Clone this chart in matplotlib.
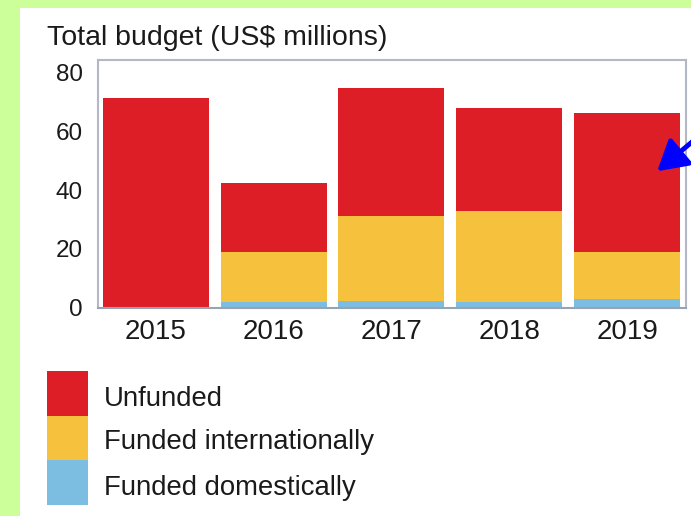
import matplotlib
matplotlib.use("Agg")
import matplotlib.pyplot as plt
from matplotlib.patches import Rectangle

years = ["2015", "2016", "2017", "2018", "2019"]
funded_domestically = [0.0, 2.0, 2.2, 2.0, 2.8]
funded_internationally = [0.0, 17.0, 29.1, 31.0, 16.2]
unfunded = [71.4, 23.4, 43.5, 35.0, 47.3]
yticks = [0, 20, 40, 60, 80]
legend_labels = ["Unfunded", "Funded internationally", "Funded domestically"]

RED = "#DE1E27"
YEL = "#F6C23E"
BLU = "#7CBDE2"
GREEN = "#CCFF99"
TXT = "#1A1A1A"

plt.rcParams['font.family'] = ['Liberation Sans', 'DejaVu Sans']

W, H = 691, 516
fig = plt.figure(figsize=(W / 100, H / 100), dpi=100)
fig.patch.set_facecolor(GREEN)

def fx(px):
    return px / W

def fy(py):
    return 1 - py / H

# white page
fig.add_artist(Rectangle((fx(20), 0), 1 - fx(20), fy(8), transform=fig.transFigure,
                         facecolor="white", edgecolor="none", zorder=0))

ax = fig.add_axes([fx(98), fy(307.5), fx(686) - fx(98), fy(59.5) - fy(307.5)])
ax.set_facecolor("none")
x = list(range(len(years)))
w = 0.9
ax.bar(x, funded_domestically, width=w, color=BLU, linewidth=0)
ax.bar(x, funded_internationally, width=w, bottom=funded_domestically, color=YEL, linewidth=0)
bottom2 = [a + b for a, b in zip(funded_domestically, funded_internationally)]
ax.bar(x, unfunded, width=w, bottom=bottom2, color=RED, linewidth=0)

ax.set_xlim(-0.49, 4.5)
ax.set_ylim(0, 84.6)
ax.set_xticks(x)
ax.set_xticklabels(years, fontsize=20, color=TXT)
ax.set_yticks(yticks)
ax.set_yticklabels([str(v) for v in yticks], fontsize=17.5, color=TXT)
ax.tick_params(axis="x", length=0, pad=8)
ax.tick_params(axis="y", length=0, pad=11)
for s in ax.spines.values():
    s.set_color("#B4B8C6")
    s.set_linewidth(1.5)
ax.spines["bottom"].set_color("#98A4B6")

fig.text(fx(47), fy(38), "Total budget (US$ millions)", fontsize=20.5, color=TXT,
         ha="left", va="center")

# legend
colors = [RED, YEL, BLU]
tops = [371, 416, 460]
bots = [416, 460, 505]
centers = [399, 442, 488]
for c, t, b, cy, lab in zip(colors, tops, bots, centers, legend_labels):
    fig.add_artist(Rectangle((fx(47), fy(b)), fx(88) - fx(47), fy(t) - fy(b),
                             transform=fig.transFigure, facecolor=c, edgecolor="none"))
    fig.text(fx(104), fy(cy), lab, fontsize=19.8, color=TXT, ha="left", va="center")

# blue arrow
fig.add_artist(matplotlib.patches.FancyArrowPatch(
    (fx(705), fy(131)), (fx(655), fy(173)), transform=fig.transFigure,
    arrowstyle="-|>,head_length=12,head_width=7", color="#0000FF", linewidth=3.5,
    mutation_scale=1.5))

fig.savefig("out.png", dpi=100, facecolor=fig.get_facecolor())
